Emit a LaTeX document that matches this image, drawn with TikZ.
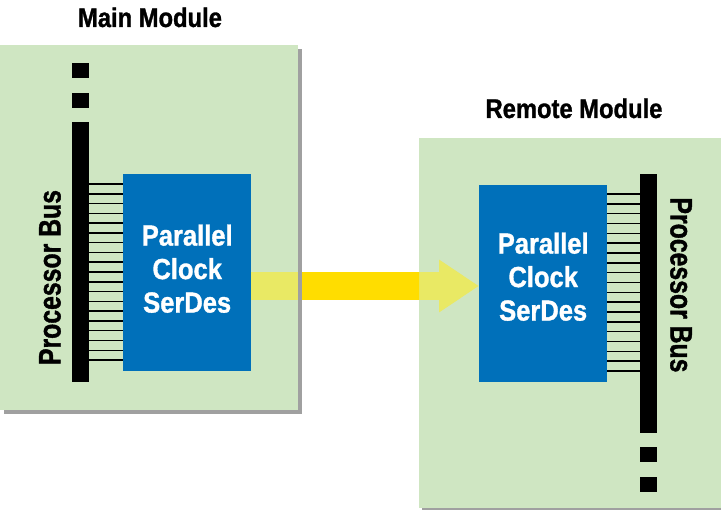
\documentclass[tikz,border=0pt]{standalone}
\usepackage{fontspec}
\newfontfamily\cndA{Liberation Sans}[FakeStretch=0.88,FakeBold=1.2]
\newfontfamily\cndB{Liberation Sans}[FakeStretch=0.8,FakeBold=1.2]
\usetikzlibrary{arrows.meta,calc}
\definecolor{modgreen}{HTML}{CFE6C2}
\definecolor{serblue}{HTML}{0070BA}
\definecolor{gold}{HTML}{FFDD00}
\definecolor{lightyel}{HTML}{E9E964}
\definecolor{shadowgray}{HTML}{A0A0A0}
\tikzset{
  modbox/.style={rectangle, fill=modgreen, draw=none, inner sep=0pt, anchor=north west},
  serbox/.style={rectangle, fill=serblue, draw=none, inner sep=0pt, anchor=north west,
    minimum width=128pt, minimum height=197pt},
  busbar/.style={rectangle, fill=black, draw=none, inner sep=0pt, anchor=north west, minimum width=17pt},
  busdot/.style={busbar, minimum height=15pt},
  busline/.style={draw=black, line width=1.5pt},
  sertext/.style={text=white, align=center, inner sep=0pt,
    font=\cndA\bfseries\fontsize{29}{33.5}\selectfont},
  bustext/.style={text=black, inner sep=0pt, font=\cndB\bfseries\fontsize{31}{36}\selectfont},
  titletext/.style={text=black, inner sep=0pt, anchor=base, font=\cndA\bfseries\fontsize{27}{30}\selectfont},
  bigarrow/.style={line width=28pt, -{Triangle[length=40pt,width=50pt]}}
}
\begin{document}
\begin{tikzpicture}[x=1pt,y=-1pt]
\useasboundingbox (0,0) rectangle (721,510);
% modules
\node[modbox, minimum width=298pt, minimum height=365pt] (mm) at (0,45) {};
\node[modbox, minimum width=302pt, minimum height=370pt] (rm) at (419,138) {};
% remote shadow
\fill[shadowgray] ($(rm.south west)+(3,0)$) rectangle ($(rm.south east)+(0,3)$);
% serdes boxes
\node[serbox] (ms) at (123,174) {};
\node[serbox] (rs) at (479,185) {};
% arrow
\coordinate (ay) at (0,286);
\draw[bigarrow, lightyel] (ms.east |- ay) -- (rs.west |- ay);
\begin{scope}
  \clip (301,0) rectangle (419,510);
  \draw[bigarrow, gold] (ms.east |- ay) -- (rs.west |- ay);
\end{scope}
% main shadow
\fill[shadowgray] ($(mm.north east)+(0,4)$) rectangle ($(mm.south east)+(4,4)$);
\fill[shadowgray] ($(mm.south west)+(4,0)$) rectangle ($(mm.south east)+(0,4)$);
% buses
\node[busbar, minimum height=260pt] (mb) at (72,122) {};
\node[busdot] (mbd1) at (72,63) {};
\node[busdot] (mbd2) at (72,92.5) {};
\node[busbar, minimum height=259pt] (rb) at (640,174) {};
\node[busdot] (rbd1) at (640,447) {};
\node[busdot] (rbd2) at (640,477) {};
% parallel lines
\foreach \i in {0,...,18} {
  \coordinate (ml\i) at (0,{184+\i*9.78});
  \draw[busline] (mb.east |- ml\i) -- (ms.west |- ml\i);
  \coordinate (rl\i) at (0,{194+\i*9.83});
  \draw[busline] (rs.east |- rl\i) -- (rb.west |- rl\i);
}
% texts
\node[sertext] (mst) at ($(ms.center)+(0,-4)$) {Parallel\\Clock\\SerDes};
\node[sertext] (rst) at ($(rs.center)+(0,-7)$) {Parallel\\Clock\\SerDes};
\node[bustext, rotate=90] (mpb) at (50,277.5) {Processor Bus};
\node[bustext, rotate=-90] (rpb) at (681,285) {Processor Bus};
\node[titletext] (mt) at (150,27) {Main Module};
\node[titletext] (rt) at (574,118) {Remote Module};
\end{tikzpicture}
\end{document}
